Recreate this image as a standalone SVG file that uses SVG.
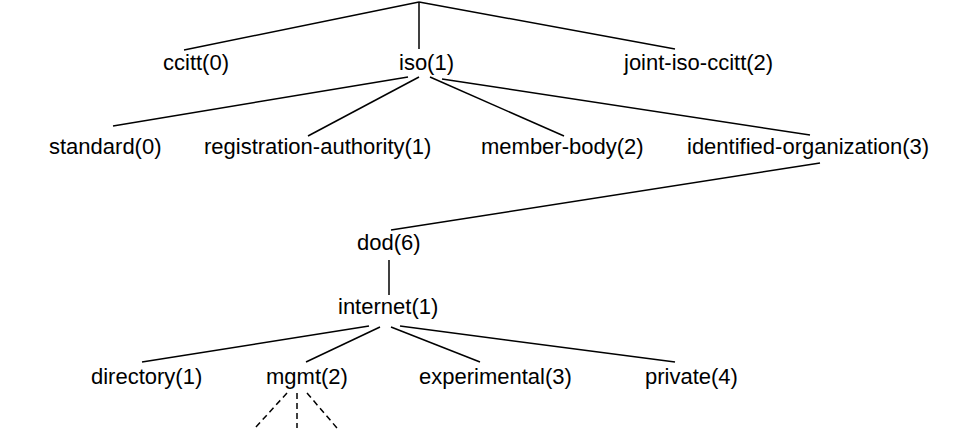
<svg xmlns="http://www.w3.org/2000/svg" width="974" height="446" viewBox="0 0 974 446">
<style>
text { font-family: "Liberation Sans", Arial, sans-serif; font-size: 22px; fill: #000; }
.c line { stroke: #000; stroke-width: 1.5; fill: none; }
.c line.d { stroke-dasharray: 6 4; }
</style>
<rect width="974" height="446" fill="#fff"/>
<g class="c" id="connectors">
<line x1="419" y1="2" x2="184" y2="50"/>
<line x1="419" y1="2" x2="419" y2="49"/>
<line x1="419" y1="2" x2="675" y2="49"/>
<line x1="408" y1="77" x2="113" y2="126"/>
<line x1="419" y1="77" x2="308" y2="136"/>
<line x1="430" y1="77" x2="564" y2="136"/>
<line x1="442" y1="79" x2="810" y2="135"/>
<line x1="820" y1="163" x2="391" y2="230"/>
<line x1="389" y1="260" x2="389" y2="295"/>
<line x1="369" y1="326" x2="142" y2="362"/>
<line x1="380" y1="327" x2="306" y2="362"/>
<line x1="391" y1="327" x2="480" y2="362"/>
<line x1="400" y1="326" x2="675" y2="362"/>
<line class="d" x1="287" y1="393" x2="255" y2="428"/>
<line class="d" x1="297" y1="393" x2="297" y2="428"/>
<line class="d" x1="307" y1="393" x2="337" y2="428"/>
</g>
<g id="ccitt"><text x="163" y="70">ccitt(0)</text></g>
<g id="iso"><text x="399" y="70">iso(1)</text></g>
<g id="joint-iso-ccitt"><text x="624" y="70">joint-iso-ccitt(2)</text></g>
<g id="standard"><text x="49" y="154">standard(0)</text></g>
<g id="registration-authority"><text x="204" y="154">registration-authority(1)</text></g>
<g id="member-body"><text x="481" y="154">member-body(2)</text></g>
<g id="identified-organization"><text x="687" y="154">identified-organization(3)</text></g>
<g id="dod"><text x="357" y="250">dod(6)</text></g>
<g id="internet"><text x="338" y="314">internet(1)</text></g>
<g id="directory"><text x="91" y="384">directory(1)</text></g>
<g id="mgmt"><text x="266" y="384">mgmt(2)</text></g>
<g id="experimental"><text x="419" y="384">experimental(3)</text></g>
<g id="private"><text x="645" y="384">private(4)</text></g>
</svg>
